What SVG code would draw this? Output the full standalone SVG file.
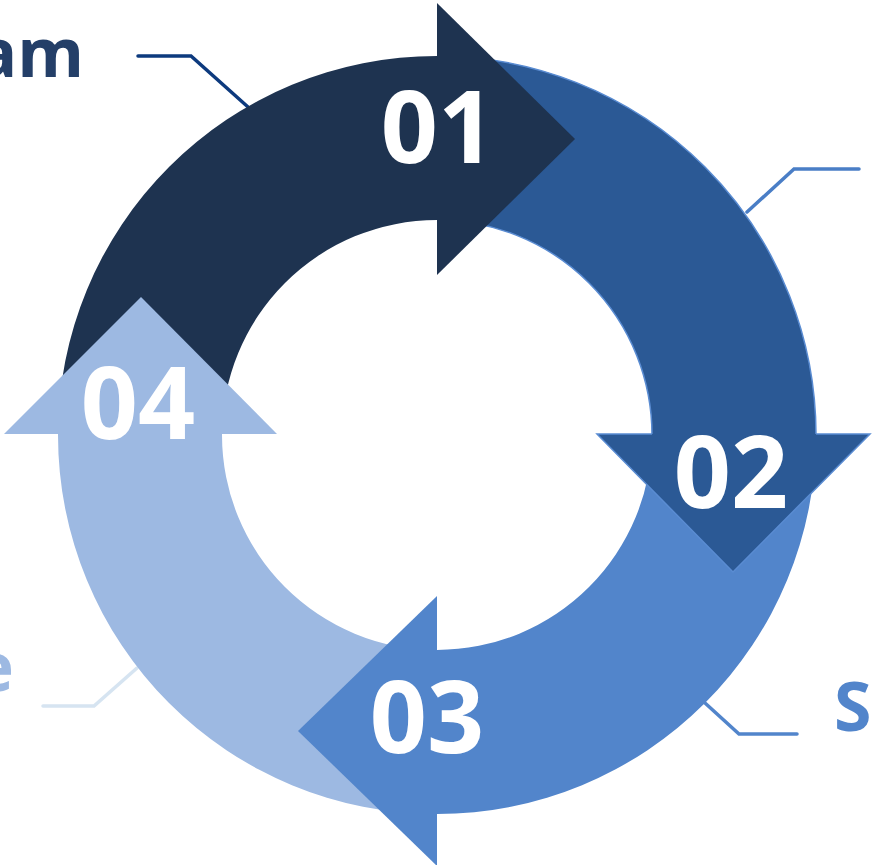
<svg xmlns="http://www.w3.org/2000/svg" width="872" height="865" viewBox="0 0 872 865">
<style>
.num{font-family:"Open Sans","Noto Sans",sans-serif;font-weight:700;font-size:100px;fill:#ffffff;text-anchor:middle}
.lbl{font-family:"Open Sans","Noto Sans",sans-serif;font-weight:700;font-size:68px}
.con{fill:none;stroke-width:3.5;stroke-linecap:round;stroke-linejoin:miter}
.edge02{fill:none;stroke:#5A8CD2;stroke-width:1.5}
</style>
<rect width="872" height="865" fill="#ffffff"/>
<g id="connectors">
<polyline class="con" stroke="#0D3A7E" points="138,56 191,56 248,107"/>
<polyline class="con" stroke="#4A7EC6" points="859,169 794,169 747,212"/>
<polyline class="con" stroke="#5285CB" points="705,703 739,734 797,734"/>
<polyline class="con" stroke="#D6E4F1" points="43,706 94,706 137,668"/>
</g>
<g id="bodies">
<path id="body01" fill="#1E3350" d="M 58 435 A 379 379 0 0 1 437 56 L 441 56 L 441 220 L 437 220 A 215 215 0 0 0 222 435 Z"/>
<path id="body02" fill="#2B5995" d="M 437 56 A 379 379 0 0 1 816 435 L 816 438 L 652 438 L 652 435 A 215 215 0 0 0 437 220 Z"/>
<path class="edge02" d="M 437 56 A 379 379 0 0 1 816 435 M 652 435 A 215 215 0 0 0 437 220"/>
<path id="body03" fill="#5285CB" d="M 816 435 A 379 379 0 0 1 437 814 L 433 814 L 433 650 L 437 650 A 215 215 0 0 0 652 435 Z"/>
<path id="body04" fill="#9DB9E2" d="M 437 814 A 379 379 0 0 1 58 435 L 58 431 L 222 431 L 222 435 A 215 215 0 0 0 437 650 Z"/>
</g>
<g id="node01">
<path fill="#1E3350" d="M 437 3 L 575 139 L 437 275 Z"/>
<text class="num" x="438" y="163">01</text>
</g>
<g id="node02">
<path fill="#2B5995" d="M 597 434 L 870 434 L 733 572 Z"/>
<path class="edge02" d="M 652 434 L 597 434 L 733 572 L 870 434 L 816 434"/>
<text class="num" x="731" y="508">02</text>
</g>
<g id="node03">
<path fill="#5285CB" d="M 437 596 L 437 866 L 298 731 Z"/>
<text class="num" x="427" y="753">03</text>
</g>
<g id="node04">
<path fill="#9DB9E2" d="M 4 434 L 277 434 L 141 297 Z"/>
<text class="num" x="138" y="439">04</text>
</g>
<g id="labels">
<text class="lbl" fill="#243F68" x="84" y="77" text-anchor="end">am</text>
<text class="lbl" fill="#9DB9E2" x="14" y="691" text-anchor="end">e</text>
<text class="lbl" fill="#5285CB" x="834" y="731">S</text>
</g>
</svg>
